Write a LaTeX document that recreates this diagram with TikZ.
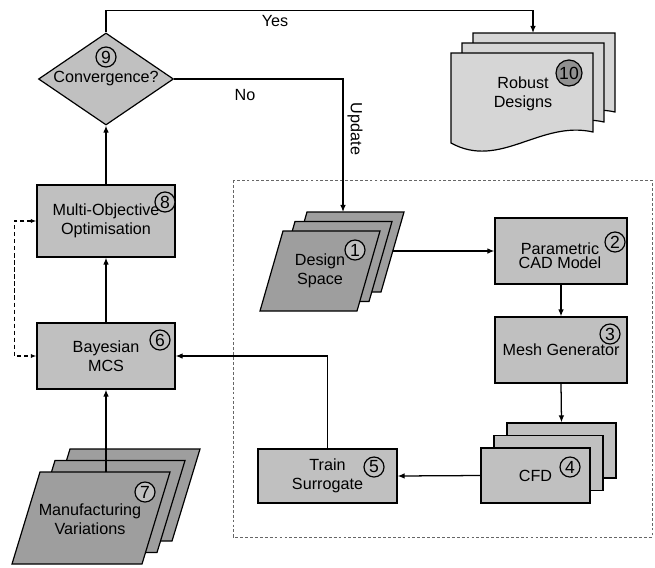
\documentclass[tikz,border=0pt]{standalone}
\usepackage{fontspec}
\setmainfont{Liberation Sans}
\usepackage{tikz}
\usetikzlibrary{arrows.meta, positioning, shapes.geometric, calc}
\definecolor{gris}{RGB}{192,192,192}
\definecolor{grisfonce}{RGB}{158,158,158}
\definecolor{grisclair}{RGB}{214,214,214}
\definecolor{grisnum}{RGB}{145,145,145}

\begin{document}
\begin{tikzpicture}[x=0.025cm, y=-0.025cm,
	forme/.style={draw, fill=gris, line width=0.85pt},
	bloc/.style={forme, inner sep=0pt, align=center, font=\fontsize{11.5}{13.5}\selectfont},
	txt/.style={align=center, font=\fontsize{11.5}{13.5}\selectfont},
	num/.style={circle, forme, inner sep=0pt, minimum size=0.5cm, font=\fontsize{12.5}{12.5}\selectfont},
	fl/.style={-{Latex[length=5pt,width=4pt]}, line width=0.9pt},
	pointille/.style={dash pattern=on 2pt off 1.5pt, black!60, line width=0.55pt}]
	
	\useasboundingbox (0,0) rectangle (655,567);
	
	% cadre de la boucle CFD
	\draw[pointille] (233,180) rectangle (652,537);
	
	% 9 : convergence
	\node[bloc, diamond, aspect=1.47, minimum width=3.375cm, minimum height=2.3cm] (conv) at (106,79) {Convergence?};
	\node[num] (n9) at (106,57) {9};
	
	% 8 et 6 : optimisation, MCS
	\node[bloc, minimum width=3.45cm, minimum height=1.8cm] (mo) at (106,221) {Multi-Objective\\Optimisation};
	\node[num] (n8) at (165,202) {8};
	\node[bloc, minimum width=3.45cm, minimum height=1.65cm] (bay) at (106,356) {Bayesian\\MCS};
	\node[num] (n6) at (160,340) {6};
	
	% 7 : trois feuilles en parallelogramme
	\foreach \k in {2,1,0} {
		\draw[forme, fill=grisfonce]
		(40+15*\k,472-11.5*\k) -- ++(130,0) -- ++(-28,92) -- ++(-130,0) -- cycle;
	}
	\coordinate (mv-out) at (106,472);
	\node[txt] (mv) at (90,519) {Manufacturing\\Variations};
	\node[num] (n7) at (145,492) {7};
	
	% 1 : espace de conception
	\foreach \k in {2,1,0} {
		\draw[forme, fill=grisfonce]
		(283+12*\k,231-9.5*\k) -- ++(97,0) -- ++(-23,80) -- ++(-97,0) -- cycle;
	}
	\coordinate (ds-in) at (343,212);
	\coordinate (ds-out) at (393,251);
	\node[txt] (ds) at (320,271) {Design\\Space};
	\node[num] (n1) at (355,250) {1};
	
	% 2, 3 : CAO et maillage
	\node[bloc, minimum width=3.3cm, minimum height=1.65cm] (cad) at (561,251) {};
	\node[txt, font=\fontsize{11.5}{10}\selectfont] (cad-t) at (560,256) {Parametric\\CAD Model};
	\node[num] (n2) at (615,242) {2};
	\node[bloc, minimum width=3.3cm, minimum height=1.65cm] (mesh) at (561,350) {Mesh Generator};
	\node[num] (n3) at (610,334) {3};
	
	% 4 : CFD, pile de trois
	\foreach \k in {2,1} {
		\node[bloc, minimum width=2.725cm, minimum height=1.375cm] (cfd\k) at (535.5+13*\k,475.5-12.5*\k) {};
	}
	\node[bloc, minimum width=2.725cm, minimum height=1.375cm] (cfd) at (535.5,475.5) {CFD};
	\node[num] (n4) at (570,467) {4};
	
	% 5 : substitut
	\node[bloc, minimum width=3.475cm, minimum height=1.35cm] (train) at (327.5,476) {Train\\Surrogate};
	\node[num] (n5) at (374,467) {5};
	
	% 10 : resultats, trois documents
	\foreach \k in {2,1,0} {
		\draw[forme, fill=grisclair]
		(451+11*\k,53-10*\k) -- (593+11*\k,53-10*\k) -- (593+11*\k,132-10*\k)
		.. controls (540+11*\k,120-10*\k) and (500+11*\k,170-10*\k) .. (451+11*\k,143-10*\k) -- cycle;
	}
	\coordinate (rd-in) at (533,33);
	\node[txt] (rd) at (523,94) {Robust\\Designs};
	\node[num, fill=grisnum, minimum size=0.65cm] (n10) at (569,73) {10};
	
	% liaisons
	\draw[fl] (conv.north) -- ++(0,-22) -| (rd-in);
	\node[txt] (oui) at (275,21) {Yes};
	\draw[fl] (conv.east) -| (ds-in);
	\node[txt] (non) at (245,95) {No};
	\node[txt, rotate=-90] (maj) at (355,129) {Update};
	\draw[fl] (ds-out) -- (cad.west);
	\draw[fl] (cad.south) -- (mesh.north);
	\draw[fl] (mesh.south) -- (cfd2.north);
	\draw[fl] (cfd.west) -- (train.east);
	\draw[fl] (train.north) |- (bay.east);
	\draw[fl] (mv-out) -- (bay.south);
	\draw[fl] (bay.north) -- (mo.south);
	\draw[fl] (mo.north) -- (conv.south);
	\draw[{Latex[length=4pt,width=3pt]}-{Latex[length=4pt,width=3pt]}, dash pattern=on 3pt off 2pt, line width=0.9pt]
	(mo.west) -- ++(-22,0) |- (bay.west);
\end{tikzpicture}
\end{document}
